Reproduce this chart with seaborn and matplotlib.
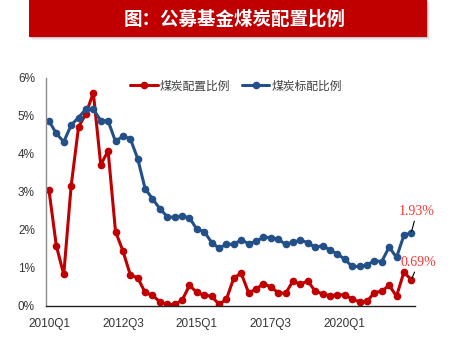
import matplotlib
matplotlib.use("Agg")
import matplotlib.pyplot as plt
from matplotlib.patches import Rectangle
import seaborn as sns
import pandas as pd

# Quarterly coal weighting of public mutual funds, in percent
quarters = [f"{2010 + i // 4}Q{i % 4 + 1}" for i in range(50)]
allocation = [3.05, 1.58, 0.83, 3.16, 4.71, 5.06, 5.61, 3.72, 4.08, 1.96,
              1.45, 0.82, 0.74, 0.36, 0.28, 0.11, 0.04, 0.04, 0.15, 0.54,
              0.36, 0.28, 0.26, 0.04, 0.18, 0.74, 0.86, 0.35, 0.44, 0.59,
              0.50, 0.35, 0.33, 0.66, 0.57, 0.66, 0.39, 0.32, 0.27, 0.29,
              0.30, 0.18, 0.11, 0.12, 0.35, 0.39, 0.54, 0.26, 0.89, 0.69]
benchmark = [4.87, 4.54, 4.32, 4.76, 4.96, 5.18, 5.18, 4.88, 4.87, 4.33,
             4.47, 4.40, 3.88, 3.09, 2.82, 2.56, 2.35, 2.33, 2.37, 2.32,
             2.02, 1.96, 1.67, 1.52, 1.63, 1.62, 1.74, 1.64, 1.70, 1.81,
             1.80, 1.76, 1.62, 1.68, 1.73, 1.67, 1.54, 1.59, 1.47, 1.37,
             1.23, 1.04, 1.04, 1.08, 1.19, 1.17, 1.55, 1.28, 1.86, 1.93]
series_names = ["煤炭配置比例", "煤炭标配比例"]
tick_labels = ["2010Q1", "2012Q3", "2015Q1", "2017Q3", "2020Q1"]
y_ticks = [0, 1, 2, 3, 4, 5, 6]
title = "图：公募基金煤炭配置比例"

RED = "#C00000"
BLUE = "#24508A"

df = pd.DataFrame({
    "idx": list(range(len(quarters))) * 2,
    "value": allocation + benchmark,
    "series": [series_names[0]] * len(quarters) + [series_names[1]] * len(quarters),
})

sns.set_style("white")
plt.rcParams["font.family"] = ["Liberation Sans", "Noto Sans CJK SC", "DejaVu Sans"]

fig = plt.figure(figsize=(4.61, 3.42), dpi=100)
ax = fig.add_axes([46 / 461, 1 - 306 / 342, 369 / 461, 228 / 342])

sns.lineplot(data=df, x="idx", y="value", hue="series", hue_order=series_names,
             palette=[RED, BLUE], marker="o", markersize=5.5, markeredgewidth=0,
             linewidth=2.2, ax=ax, legend=True)

ax.set_xlim(-0.4, 49.5)
ax.set_ylim(0, 6)
ax.set_yticks(y_ticks)
ax.set_yticklabels([f"{v}%" for v in y_ticks])
tick_pos = [quarters.index(t) for t in tick_labels]
ax.set_xticks(tick_pos)
ax.set_xticklabels(tick_labels)
ax.set_xlabel("")
ax.set_ylabel("")
ax.tick_params(axis="both", length=0, labelsize=8.5, colors="#333333")
ax.tick_params(axis="y", pad=8)
ax.tick_params(axis="x", pad=9)

for side in ["top", "right"]:
    ax.spines[side].set_visible(False)
ax.spines["left"].set_color("#8c8c8c")
ax.spines["left"].set_linewidth(1.0)
ax.spines["bottom"].set_color("#222222")
ax.spines["bottom"].set_linewidth(1.0)

leg = ax.legend(loc="center", bbox_to_anchor=(0.516, 0.965), ncol=2,
                frameon=False, handlelength=2.3, handletextpad=0.2,
                columnspacing=1.0, prop={"family": ["Noto Sans CJK SC"], "size": 8.5})
for t in leg.get_texts():
    t.set_color("#404040")

# Latest-quarter value callouts (text centre offset in data units)
label_color = "#FF3333"
for series, dx, dy in [(benchmark, 0.75, 0.56), (allocation, 1.0, 0.46)]:
    xi = len(series) - 1
    yv = series[-1]
    ax.annotate(f"{yv:.2f}%", xy=(xi, yv), xytext=(xi + dx, yv + dy),
                ha="center", va="center", color=label_color, fontsize=10,
                family=["Liberation Serif"], annotation_clip=False,
                arrowprops=dict(arrowstyle="-", color="black", lw=0.8,
                                shrinkA=0, shrinkB=1))

# Title banner with a soft drop shadow
for k, a in [(3, 0.10), (2, 0.15), (1, 0.25)]:
    fig.patches.append(Rectangle((29 / 461 + k / 461, 1 - 37 / 342 - k / 342),
                                 398 / 461, 37 / 342, transform=fig.transFigure,
                                 facecolor="#808080", alpha=a, edgecolor="none",
                                 zorder=0))
fig.patches.append(Rectangle((29 / 461, 1 - 37 / 342), 398 / 461, 37 / 342,
                             transform=fig.transFigure, facecolor=RED,
                             edgecolor="none", zorder=1))
fig.text(235 / 461, 1 - 19 / 342, title, ha="center", va="center",
         color="white", fontsize=13.3, fontweight="bold",
         family=["Noto Sans CJK SC"], zorder=2)

fig.savefig("out.png", dpi=100)
